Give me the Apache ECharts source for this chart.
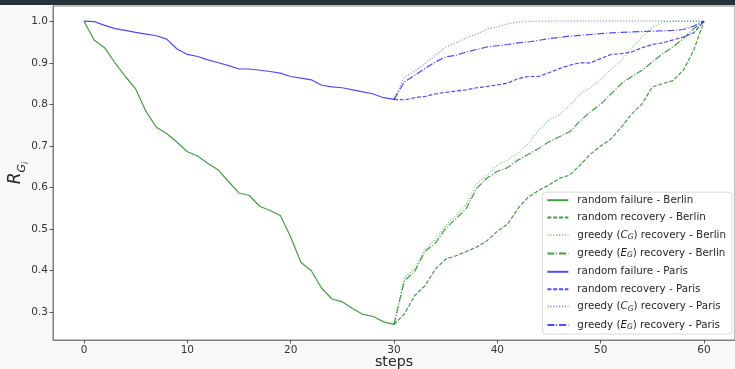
<!DOCTYPE html>
<html>
<head>
<meta charset="utf-8">
<script src="https://cdn.jsdelivr.net/npm/echarts@6/dist/echarts.min.js"></script>
<style>
  html, body { margin: 0; padding: 0; background: #f8f8f8; }
  #chart { width: 735px; height: 369px; }
</style>
</head>
<body>
<div id="chart"></div>
<script>
// steps: failure phase 0..30, recovery phase 30..60
const failStart = 0;
const recoveryStart = 30;

const xTicks = [0, 10, 20, 30, 40, 50, 60];
const yTicks = [0.3, 0.4, 0.5, 0.6, 0.7, 0.8, 0.9, 1.0];

// Berlin
const berlinFailure = [1.0, 0.954, 0.936, 0.9, 0.867, 0.837, 0.783, 0.745, 0.73, 0.709, 0.686,
  0.676, 0.658, 0.642, 0.614, 0.587, 0.581, 0.555, 0.545, 0.533, 0.481,
  0.42, 0.40, 0.358, 0.332, 0.325, 0.309, 0.295, 0.29, 0.277, 0.271];
const berlinRandomRec = [0.271, 0.296, 0.34, 0.364, 0.404, 0.428, 0.436, 0.446, 0.457, 0.472, 0.495,
  0.512, 0.55, 0.577, 0.593, 0.606, 0.622, 0.63, 0.654, 0.68, 0.7,
  0.717, 0.745, 0.777, 0.801, 0.842, 0.85, 0.857, 0.882, 0.93, 1.0];
const berlinGreedyC = [0.271, 0.383, 0.405, 0.452, 0.475, 0.51, 0.533, 0.56, 0.61, 0.63, 0.654,
  0.666, 0.682, 0.706, 0.738, 0.763, 0.775, 0.797, 0.825, 0.84, 0.86,
  0.885, 0.905, 0.935, 0.962, 0.985, 0.997, 1.0, 1.0, 1.0, 1.0];
const berlinGreedyE = [0.271, 0.376, 0.398, 0.447, 0.466, 0.502, 0.525, 0.55, 0.598, 0.623, 0.639,
  0.648, 0.666, 0.68, 0.694, 0.71, 0.722, 0.734, 0.76, 0.782, 0.8,
  0.825, 0.85, 0.867, 0.882, 0.902, 0.922, 0.938, 0.958, 0.982, 1.0];

// Paris
const parisFailure = [1.0, 0.999, 0.99, 0.982, 0.978, 0.973, 0.969, 0.965, 0.957, 0.933, 0.92,
  0.915, 0.907, 0.9, 0.893, 0.885, 0.885, 0.882, 0.879, 0.875, 0.867,
  0.863, 0.859, 0.846, 0.842, 0.84, 0.835, 0.83, 0.825, 0.816, 0.812];
const parisRandomRec = [0.812, 0.811, 0.816, 0.819, 0.825, 0.829, 0.832, 0.835, 0.84, 0.843, 0.847,
  0.851, 0.862, 0.867, 0.867, 0.876, 0.886, 0.894, 0.9, 0.9, 0.91,
  0.92, 0.922, 0.926, 0.936, 0.944, 0.948, 0.955, 0.962, 0.972, 1.0];
const parisGreedyC = [0.812, 0.866, 0.88, 0.898, 0.918, 0.938, 0.948, 0.96, 0.969, 0.981, 0.986,
  0.994, 0.998, 0.999, 1.0, 1.0, 1.0, 1.0, 1.0, 1.0, 1.0,
  1.0, 1.0, 1.0, 1.0, 1.0, 1.0, 1.0, 1.0, 1.0, 1.0];
const parisGreedyE = [0.812, 0.854, 0.87, 0.886, 0.902, 0.914, 0.918, 0.926, 0.932, 0.938, 0.941,
  0.944, 0.948, 0.95, 0.954, 0.958, 0.961, 0.964, 0.966, 0.968, 0.97,
  0.972, 0.973, 0.974, 0.975, 0.976, 0.977, 0.978, 0.98, 0.988, 1.0];

const green = 'rgba(0,128,0,0.75)';
const greenLight = 'rgba(0,128,0,0.45)';
const blue = 'rgba(0,0,255,0.7)';
const blueLight = 'rgba(0,0,255,0.45)';

// matplotlib-like dash patterns (px)
const solid = 'solid';
const dashed = [4, 1.8];
const dotted = [1.1, 1.8];
const dashDot = [7, 1.8, 1.1, 1.8];

// pair values with their step number
function withSteps(values, start) {
    return values.map((v, i) => [start + i, v]);
}

function makeSeries(name, values, start, color, dash) {
    return {
        name: name,
        type: 'line',
        data: withSteps(values, start),
        symbol: 'none',
        lineStyle: { color: color, width: 1.2, type: dash },
        itemStyle: { color: color },
        emphasis: { disabled: true },
        animation: false
    };
}

function initChart() {
    const chartDom = document.getElementById('chart');
    const myChart = echarts.init(chartDom);

    const option = {
        backgroundColor: '#f8f8f8',
        textStyle: { fontFamily: 'DejaVu Sans' },
        graphic: [
            // dark page strip above the figure
            { type: 'rect', left: 0, top: 0, shape: { width: 735, height: 5 }, style: { fill: '#263238' }, z: 100 }
        ],
        grid: {
            left: 53, right: 0, top: 6, bottom: 29,
            outerBoundsMode: 'none',
            containLabel: false,
            show: true,
            backgroundColor: '#ffffff',
            borderColor: '#808080',
            borderWidth: 1
        },
        legend: {
            orient: 'vertical',
            right: 3,
            bottom: 35,
            backgroundColor: 'rgba(255,255,255,0.85)',
            borderColor: '#d9d9d9',
            borderWidth: 1,
            borderRadius: 3,
            padding: [3, 6, 3, 4],
            itemWidth: 21,
            itemHeight: 10,
            itemGap: 7.4,
            itemStyle: { opacity: 0 },
            textStyle: {
                fontSize: 10.3,
                color: '#262626',
                padding: [0, 0, 0, 4],
                rich: {
                    it: { fontSize: 10.3, fontStyle: 'italic', color: '#262626' },
                    sub: { fontSize: 7.5, fontStyle: 'italic', color: '#262626', verticalAlign: 'bottom', padding: [4, 0, 0, 0] }
                }
            },
            formatter: function (name) {
                return name.replace(/\((C|E)_G\)/, '({it|$1}{sub|G})');
            }
        },
        xAxis: {
            type: 'value',
            min: -3,
            max: 63,
            name: 'steps',
            nameLocation: 'middle',
            nameGap: 15,
            nameMoveOverlap: false,
            nameTextStyle: { fontSize: 14.2, color: '#262626' },
            axisLine: { show: true, onZero: false, lineStyle: { color: '#808080' } },
            axisTick: { show: true, length: 3.5, customValues: xTicks, lineStyle: { color: '#555' } },
            axisLabel: { customValues: xTicks, fontSize: 10.5, color: '#333', margin: 5 },
            splitLine: { show: false }
        },
        yAxis: {
            type: 'value',
            min: 0.2335,
            max: 1.0365,
            name: '{r|R}{g|G}{i|i}',
            nameLocation: 'middle',
            nameGap: 27,
            nameMoveOverlap: false,
            nameTextStyle: {
                rich: {
                    r: { fontSize: 17, fontStyle: 'italic', color: '#262626', lineHeight: 20 },
                    g: { fontSize: 11, fontStyle: 'italic', color: '#262626', verticalAlign: 'bottom', padding: [0, 0, -2, 0] },
                    i: { fontSize: 8, fontStyle: 'italic', color: '#262626', verticalAlign: 'bottom', padding: [0, 0, -4, 0] }
                }
            },
            axisLine: { show: true, onZero: false, lineStyle: { color: '#808080' } },
            axisTick: { show: true, length: 3.5, customValues: yTicks, lineStyle: { color: '#555' } },
            axisLabel: {
                customValues: yTicks,
                fontSize: 10.5,
                color: '#333',
                margin: 5,
                formatter: v => v.toFixed(1)
            },
            splitLine: { show: false }
        },
        series: [
            makeSeries('random failure - Berlin', berlinFailure, failStart, green, solid),
            makeSeries('random recovery - Berlin', berlinRandomRec, recoveryStart, green, dashed),
            makeSeries('greedy (C_G) recovery - Berlin', berlinGreedyC, recoveryStart, greenLight, dotted),
            makeSeries('greedy (E_G) recovery - Berlin', berlinGreedyE, recoveryStart, green, dashDot),
            makeSeries('random failure - Paris', parisFailure, failStart, blue, solid),
            makeSeries('random recovery - Paris', parisRandomRec, recoveryStart, blue, dashed),
            makeSeries('greedy (C_G) recovery - Paris', parisGreedyC, recoveryStart, blueLight, dotted),
            makeSeries('greedy (E_G) recovery - Paris', parisGreedyE, recoveryStart, blue, dashDot)
        ]
    };

    myChart.setOption(option);
    window.addEventListener('resize', () => myChart.resize());
}

window.onload = initChart;
</script>
</body>
</html>
